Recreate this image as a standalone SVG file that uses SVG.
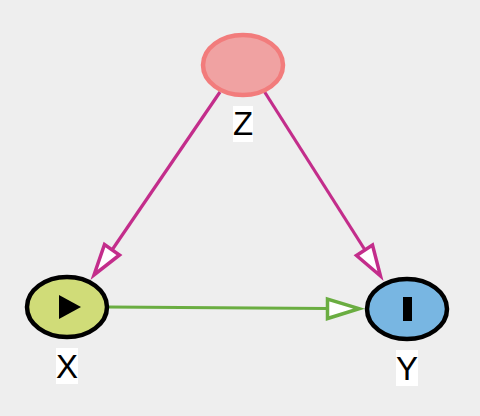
<svg xmlns="http://www.w3.org/2000/svg" width="480" height="416" viewBox="0 0 480 416">
  <style>
    .node { stroke-width: 4.500; }
    .pink { fill: none; stroke: #c32d8b; stroke-width: 3.200; }
    .green { fill: none; stroke: #6aad41; stroke-width: 3.200; }
    .head { fill: #fff; stroke-width: 3.500; stroke-miterlimit: 10; }
    .bg { fill: #fff; }
    .label { font-family: "Liberation Sans", Arial, sans-serif; font-size: 33px; fill: #000; text-anchor: middle; }
  </style>
  <rect width="480" height="416" fill="#eeeeee"/>
  <g id="connectors">
    <path class="pink" d="M220 92L112 250"/>
    <polygon class="head" stroke="#c32d8b" points="94,275 104.500,244.500 119.500,255"/>
    <path class="pink" d="M264 91L365 250"/>
    <polygon class="head" stroke="#c32d8b" points="380.500,276 356.500,255.500 372.500,245"/>
    <path class="green" d="M108 307L327 308.500"/>
    <polygon class="head" stroke="#6aad41" points="359,308.700 327.500,299 327.500,318.500"/>
  </g>
  <g id="node-z">
    <ellipse class="node" cx="243" cy="65" rx="40" ry="30" fill="#f0a2a2" stroke="#f27c7c"/>
    <rect class="bg" x="233" y="106" width="20" height="36"/>
    <text class="label" x="243" y="135">Z</text>
  </g>
  <g id="node-x">
    <ellipse class="node" cx="67" cy="307" rx="40" ry="30" fill="#d0dc78" stroke="#000"/>
    <polygon points="59,295 59,319 81,307" fill="#000"/>
    <rect class="bg" x="56" y="348" width="22" height="36"/>
    <text class="label" x="67" y="377.500">X</text>
  </g>
  <g id="node-y">
    <ellipse class="node" cx="407" cy="309" rx="40" ry="30" fill="#78b6e2" stroke="#000"/>
    <rect x="403" y="297" width="9" height="24" fill="#000"/>
    <rect class="bg" x="396" y="350" width="22" height="36"/>
    <text class="label" x="407" y="379.500">Y</text>
  </g>
</svg>
